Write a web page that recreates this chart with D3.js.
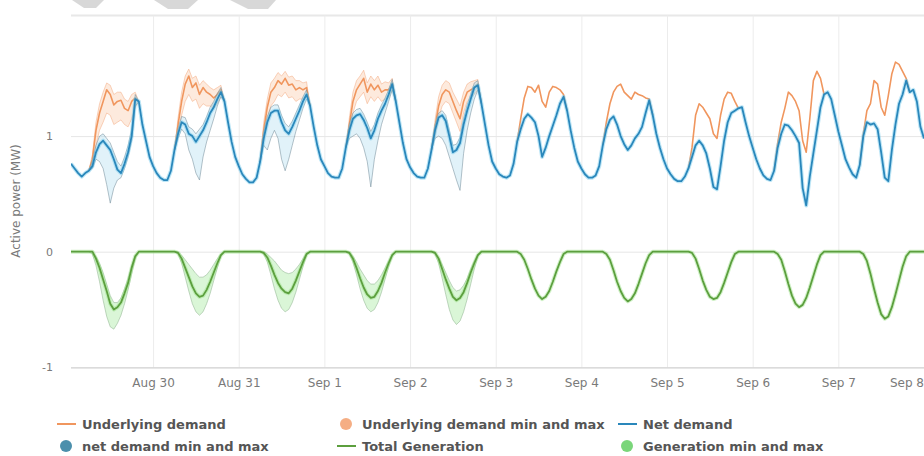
<!DOCTYPE html>
<html>
<head>
<meta charset="utf-8">
<script src="https://cdn.jsdelivr.net/npm/d3@7"></script>
<style>
  html, body { margin: 0; padding: 0; background: #ffffff; }
  svg { display: block; font-family: "DejaVu Sans", Verdana, sans-serif; }
</style>
</head>
<body>
<svg id="chart" width="924" height="456"></svg>
<script>
// ---------------------------------------------------------------
// Data: hourly readings in MW, first reading 29 Aug 01:00 (UTC)
// ---------------------------------------------------------------
const HOUR = 3600e3, DAY = 24 * HOUR;
const firstDay = Date.UTC(2016, 7, 29);          // 29 Aug, 00:00
const seriesStart = firstDay + HOUR;              // first hourly reading
const seriesEnd = Date.UTC(2016, 8, 8);           // 8 Sep, 00:00

// Net demand, one value per hour (29 Aug 01:00 ... 8 Sep 00:00)
const netDemand = [
  0.76,0.72,0.68,0.65,0.68,0.70,0.74,0.86,0.93,0.96,0.92,0.88,0.80,0.71,0.68,0.76,0.86,1.00,1.32,1.30,1.10,0.96,0.82,
  0.74,0.68,0.64,0.62,0.62,0.70,0.88,1.02,1.12,1.10,1.02,1.00,0.95,1.00,1.05,1.12,1.20,1.25,1.32,1.38,1.30,1.12,0.95,0.82,
  0.74,0.67,0.63,0.60,0.60,0.64,0.78,0.98,1.12,1.20,1.22,1.22,1.12,1.05,1.02,1.08,1.15,1.22,1.30,1.36,1.26,1.08,0.92,0.80,
  0.74,0.68,0.65,0.64,0.64,0.72,0.90,1.05,1.15,1.18,1.19,1.14,1.07,0.98,1.05,1.15,1.22,1.28,1.36,1.45,1.30,1.12,0.94,0.80,
  0.73,0.68,0.65,0.64,0.64,0.72,0.88,1.05,1.16,1.18,1.13,1.00,0.86,0.88,0.94,1.10,1.22,1.32,1.42,1.44,1.28,1.10,0.92,0.78,
  0.72,0.67,0.65,0.64,0.66,0.76,0.95,1.06,1.15,1.19,1.16,1.12,1.00,0.82,0.90,1.00,1.09,1.18,1.28,1.34,1.22,1.05,0.90,0.78,
  0.72,0.67,0.64,0.64,0.66,0.74,0.92,1.06,1.14,1.17,1.10,1.00,0.93,0.88,0.92,0.98,1.02,1.08,1.20,1.31,1.18,1.02,0.90,0.80,
  0.72,0.67,0.63,0.61,0.61,0.65,0.72,0.82,0.92,0.96,0.92,0.85,0.72,0.56,0.54,0.74,0.96,1.12,1.20,1.22,1.24,1.25,1.12,1.00,
  0.90,0.80,0.72,0.66,0.63,0.62,0.70,0.90,1.02,1.10,1.09,1.05,1.00,0.94,0.55,0.40,0.65,0.85,1.05,1.25,1.36,1.38,1.32,1.18,
  1.04,0.92,0.80,0.73,0.67,0.64,0.75,1.00,1.12,1.10,1.11,1.06,0.86,0.64,0.61,0.88,1.10,1.28,1.36,1.48,1.38,1.40,1.30,1.08,
  0.98
];

// Daytime values, 06:00 ... 20:00 of each day (29 Aug ... 7 Sep).
// Outside these hours the underlying demand equals the net demand.
const underlyingDemand = [
  [0.70,0.80,1.05,1.20,1.30,1.40,1.36,1.27,1.30,1.31,1.24,1.22,1.30,1.33,1.30],
  [0.88,1.10,1.30,1.45,1.52,1.42,1.46,1.36,1.42,1.38,1.36,1.33,1.36,1.40,1.30],
  [0.78,1.05,1.25,1.38,1.42,1.48,1.45,1.50,1.44,1.45,1.40,1.42,1.40,1.42,1.26],
  [0.90,1.10,1.30,1.40,1.45,1.50,1.38,1.45,1.40,1.44,1.38,1.40,1.40,1.46,1.30],
  [0.88,1.08,1.26,1.36,1.40,1.38,1.30,1.22,1.15,1.30,1.38,1.40,1.42,1.45,1.28],
  [0.95,1.15,1.33,1.43,1.42,1.38,1.44,1.30,1.25,1.38,1.43,1.42,1.40,1.36,1.22],
  [0.92,1.12,1.28,1.38,1.43,1.45,1.38,1.35,1.32,1.38,1.36,1.35,1.33,1.32,1.18],
  [0.72,0.90,1.18,1.28,1.25,1.20,1.15,1.02,0.98,1.18,1.32,1.38,1.37,1.30,1.24],
  [0.70,0.94,1.12,1.24,1.38,1.35,1.30,1.22,0.96,0.86,1.15,1.48,1.56,1.50,1.36],
  [0.75,1.02,1.22,1.28,1.48,1.45,1.25,1.18,1.35,1.54,1.64,1.62,1.56,1.50,1.38]
];

// Underlying demand min / max, 06:00 ... 20:00 (29 Aug ... 2 Sep)
const underlyingMin = [
  [0.70,0.76,0.92,1.05,1.12,1.20,1.18,1.10,1.12,1.14,1.10,1.08,1.15,1.25,1.30],
  [0.88,1.02,1.18,1.30,1.36,1.30,1.32,1.24,1.28,1.26,1.26,1.24,1.28,1.34,1.30],
  [0.78,0.96,1.15,1.26,1.30,1.36,1.34,1.38,1.33,1.34,1.30,1.32,1.32,1.36,1.26],
  [0.90,1.02,1.20,1.30,1.34,1.38,1.28,1.34,1.30,1.34,1.30,1.32,1.33,1.40,1.30],
  [0.88,1.00,1.16,1.26,1.30,1.28,1.20,1.12,1.04,1.20,1.30,1.33,1.36,1.40,1.28]
];
const underlyingMax = [
  [0.70,0.84,1.12,1.28,1.38,1.46,1.44,1.36,1.38,1.38,1.32,1.30,1.36,1.38,1.30],
  [0.88,1.16,1.38,1.52,1.58,1.50,1.52,1.44,1.48,1.45,1.42,1.40,1.42,1.44,1.30],
  [0.78,1.12,1.32,1.46,1.50,1.55,1.52,1.56,1.51,1.52,1.48,1.48,1.46,1.47,1.26],
  [0.90,1.16,1.38,1.48,1.52,1.57,1.46,1.52,1.48,1.52,1.45,1.47,1.46,1.50,1.30],
  [0.88,1.14,1.34,1.44,1.48,1.46,1.38,1.32,1.26,1.38,1.45,1.47,1.48,1.49,1.28]
];

// Net demand min / max, 06:00 ... 20:00 (29 Aug ... 2 Sep)
const netMin = [
  [0.70,0.72,0.80,0.78,0.72,0.58,0.42,0.55,0.62,0.64,0.72,0.82,0.96,1.26,1.30],
  [0.88,0.98,1.06,1.02,0.88,0.80,0.68,0.62,0.82,0.95,1.05,1.15,1.26,1.34,1.30],
  [0.78,0.92,0.88,0.98,1.05,0.98,0.80,0.70,0.80,0.92,1.04,1.14,1.24,1.32,1.26],
  [0.90,0.98,1.00,1.02,0.98,0.90,0.78,0.56,0.80,0.96,1.10,1.20,1.30,1.40,1.30],
  [0.88,0.98,1.00,0.98,0.92,0.82,0.72,0.62,0.53,0.85,1.05,1.20,1.32,1.40,1.28]
];
const netMax = [
  [0.70,0.78,0.92,1.00,1.02,0.98,0.94,0.86,0.78,0.74,0.82,0.92,1.06,1.36,1.30],
  [0.88,1.06,1.17,1.16,1.08,1.06,1.02,1.06,1.10,1.17,1.25,1.30,1.37,1.42,1.30],
  [0.78,1.02,1.17,1.25,1.27,1.27,1.18,1.11,1.08,1.13,1.20,1.27,1.34,1.40,1.26],
  [0.90,1.10,1.20,1.23,1.24,1.19,1.12,1.04,1.10,1.20,1.27,1.33,1.40,1.49,1.30],
  [0.88,1.09,1.20,1.22,1.18,1.05,0.92,0.93,0.99,1.15,1.27,1.36,1.46,1.48,1.28]
];

// Total generation, 06:00 ... 20:00 of each day (zero at night)
const generation = [
  [0,0.00,-0.06,-0.14,-0.24,-0.34,-0.45,-0.50,-0.48,-0.44,-0.36,-0.27,-0.14,-0.04,0],
  [0,-0.01,-0.06,-0.14,-0.22,-0.30,-0.36,-0.39,-0.38,-0.33,-0.26,-0.18,-0.10,-0.03,0],
  [0,-0.01,-0.05,-0.12,-0.20,-0.27,-0.32,-0.35,-0.36,-0.32,-0.25,-0.17,-0.09,-0.02,0],
  [0,-0.01,-0.06,-0.14,-0.23,-0.31,-0.37,-0.40,-0.39,-0.34,-0.27,-0.18,-0.10,-0.03,0],
  [0,-0.01,-0.06,-0.15,-0.24,-0.32,-0.39,-0.42,-0.40,-0.35,-0.27,-0.18,-0.10,-0.03,0],
  [0,-0.02,-0.07,-0.15,-0.24,-0.32,-0.38,-0.41,-0.39,-0.34,-0.26,-0.17,-0.09,-0.02,0],
  [0,-0.02,-0.07,-0.16,-0.26,-0.34,-0.40,-0.43,-0.41,-0.36,-0.28,-0.19,-0.10,-0.03,0],
  [0,-0.01,-0.06,-0.15,-0.25,-0.33,-0.39,-0.41,-0.40,-0.35,-0.27,-0.18,-0.09,-0.02,0],
  [0,-0.02,-0.07,-0.17,-0.28,-0.38,-0.45,-0.48,-0.46,-0.40,-0.31,-0.21,-0.11,-0.03,0],
  [0,-0.02,-0.08,-0.19,-0.32,-0.44,-0.54,-0.58,-0.56,-0.48,-0.37,-0.25,-0.13,-0.04,0]
];

// Generation min / max, 06:00 ... 20:00 (29 Aug ... 2 Sep)
const generationMin = [
  [0,-0.02,-0.12,-0.26,-0.42,-0.56,-0.65,-0.67,-0.62,-0.55,-0.45,-0.33,-0.19,-0.06,0],
  [0,-0.02,-0.10,-0.22,-0.34,-0.45,-0.52,-0.55,-0.52,-0.45,-0.36,-0.25,-0.14,-0.04,0],
  [0,-0.02,-0.09,-0.20,-0.32,-0.42,-0.49,-0.52,-0.50,-0.44,-0.35,-0.24,-0.13,-0.03,0],
  [0,-0.02,-0.09,-0.20,-0.32,-0.42,-0.49,-0.52,-0.50,-0.44,-0.35,-0.24,-0.13,-0.04,0],
  [0,-0.02,-0.10,-0.23,-0.37,-0.50,-0.59,-0.63,-0.60,-0.52,-0.41,-0.28,-0.15,-0.04,0]
];
const generationMax = [
  [0,0,-0.04,-0.10,-0.18,-0.28,-0.38,-0.44,-0.44,-0.40,-0.32,-0.23,-0.12,-0.03,0],
  [0,0,-0.03,-0.07,-0.11,-0.15,-0.19,-0.22,-0.22,-0.20,-0.16,-0.11,-0.06,-0.02,0],
  [0,0,-0.02,-0.05,-0.08,-0.12,-0.16,-0.18,-0.19,-0.18,-0.15,-0.11,-0.06,-0.01,0],
  [0,0,-0.04,-0.09,-0.15,-0.20,-0.25,-0.28,-0.28,-0.25,-0.20,-0.14,-0.08,-0.02,0],
  [0,0,-0.05,-0.11,-0.18,-0.25,-0.31,-0.34,-0.33,-0.29,-0.23,-0.15,-0.08,-0.02,0]
];

const firstDaytimeHour = 6;
const yTicks = [-1, 0, 1];
const yTitle = "Active power (MW)";
const legendItems = [
  { label: "Underlying demand",             symbol: "line",   color: "#f0965e" },
  { label: "Underlying demand min and max", symbol: "circle", color: "#f5ae84" },
  { label: "Net demand",                    symbol: "line",   color: "#2a87bb" },
  { label: "net demand min and max",        symbol: "circle", color: "#4b8fac" },
  { label: "Total Generation",              symbol: "line",   color: "#5c9f3e" },
  { label: "Generation min and max",        symbol: "circle", color: "#7ad67a" }
];

// ---------------------------------------------------------------
// Build point lists
// ---------------------------------------------------------------
const netPoints = netDemand.map((v, i) => ({ t: new Date(seriesStart + i * HOUR), v }));

const genPoints = netDemand.map((_, i) => {
  const absHour = i + 1;                       // hours since 29 Aug 00:00
  const d = Math.floor(absHour / 24), h = absHour % 24;
  const day = generation[d];
  const k = h - firstDaytimeHour;
  const v = (day && k >= 0 && k < day.length) ? day[k] : 0;
  return { t: new Date(seriesStart + i * HOUR), v };
});

const daytime = (d, values) => values.map((v, k) => ({
  t: new Date(firstDay + d * DAY + (firstDaytimeHour + k) * HOUR), v
}));
const daytimeBand = (d, lo, hi) => lo.map((l, k) => ({
  t: new Date(firstDay + d * DAY + (firstDaytimeHour + k) * HOUR), lo: l, hi: hi[k]
}));

const undSegments = underlyingDemand.map((vals, d) => daytime(d, vals));
const undBands = underlyingMin.map((lo, d) => daytimeBand(d, lo, underlyingMax[d]));
const netBands = netMin.map((lo, d) => daytimeBand(d, lo, netMax[d]));
const genBands = generationMin.map((lo, d) => daytimeBand(d, lo, generationMax[d]));

// ---------------------------------------------------------------
// Scales & layout
// ---------------------------------------------------------------
const svg = d3.select("#chart");
const plot = { left: 71, right: 924, top: 15.5, bottom: 367.3 };

const x = d3.scaleUtc()
  .domain([new Date(seriesStart), new Date(seriesEnd)])
  .range([plot.left, plot.right]);
const y = d3.scaleLinear()
  .domain([-1, 2])
  .range([plot.bottom, 20.5]);

// decorative header stripes at the very top of the panel
const stripes = [
  [[72, 0], [104, 0], [96, 8], [84, 8]],
  [[154, 0], [198, 0], [188, 9], [168, 9]],
  [[230, 0], [276, 0], [268, 9], [248, 9]]
];
svg.append("g").selectAll("path").data(stripes).join("path")
  .attr("d", p => "M" + p.join("L") + "Z")
  .attr("fill", "#d8d8d8");

// top border of the plotting panel
svg.append("line")
  .attr("x1", plot.left).attr("x2", plot.right)
  .attr("y1", plot.top).attr("y2", plot.top)
  .attr("stroke", "#e8e8e8").attr("stroke-width", 2);

// vertical day grid + x labels
const xAxis = d3.axisBottom(x)
  .ticks(d3.utcDay.every(1))
  .tickFormat(d3.utcFormat("%b %-d"))
  .tickSize(-(plot.bottom - plot.top))
  .tickPadding(11);
const gx = svg.append("g")
  .attr("transform", `translate(0,${plot.bottom})`)
  .call(xAxis);
gx.select(".domain").remove();
gx.selectAll(".tick line").attr("stroke", "#ececec").attr("stroke-width", 1);
gx.selectAll(".tick text")
  .attr("fill", "#7a7a7a").attr("font-size", 12)
  .attr("font-family", "DejaVu Sans, sans-serif");
// keep the last label inside the panel
gx.selectAll(".tick text").each(function () {
  const node = this, bb = node.getBBox();
  const tr = node.parentNode.getAttribute("transform");
  const tx = +tr.match(/translate\(([-\d.]+)/)[1];
  if (tx + bb.width / 2 > plot.right - 1) {
    d3.select(node).attr("text-anchor", "end").attr("x", plot.right - tx);
  }
});

// horizontal grid + y labels (plain hyphen for negatives)
const yAxis = d3.axisLeft(y)
  .tickValues(yTicks)
  .tickFormat(d => String(d))
  .tickSize(-(plot.right - plot.left))
  .tickPadding(18);
const gy = svg.append("g")
  .attr("transform", `translate(${plot.left},0)`)
  .call(yAxis);
gy.select(".domain").remove();
gy.selectAll(".tick line")
  .attr("stroke", d => d === -1 ? "#cfcfcf" : "#e6e6e6")
  .attr("stroke-width", d => d === -1 ? 1.2 : 1);
gy.selectAll(".tick text")
  .attr("fill", "#7a7a7a").attr("font-size", 11)
  .attr("font-family", "DejaVu Sans, sans-serif");

svg.append("text")
  .attr("transform", `translate(20,201) rotate(-90)`)
  .attr("text-anchor", "middle")
  .attr("fill", "#7a7a7a").attr("font-size", 12)
  .text(yTitle);

// ---------------------------------------------------------------
// Series
// ---------------------------------------------------------------
svg.append("clipPath").attr("id", "plotClip")
  .append("rect")
  .attr("x", plot.left).attr("y", plot.top)
  .attr("width", plot.right - plot.left).attr("height", plot.bottom - plot.top);
const g = svg.append("g").attr("clip-path", "url(#plotClip)");

const line = d3.line().x(d => x(d.t)).y(d => y(d.v));
const area = d3.area().x(d => x(d.t)).y0(d => y(d.lo)).y1(d => y(d.hi));
const loLine = d3.line().x(d => x(d.t)).y(d => y(d.lo));
const hiLine = d3.line().x(d => x(d.t)).y(d => y(d.hi));

function drawBand(bands, fill, edge) {
  const bg = g.append("g");
  bg.selectAll("path.fill").data(bands).join("path").attr("class", "fill")
    .attr("d", area).attr("fill", fill).attr("stroke", "none");
  bg.selectAll("path.lo").data(bands).join("path").attr("class", "lo")
    .attr("d", loLine).attr("fill", "none").attr("stroke", edge).attr("stroke-width", 0.9);
  bg.selectAll("path.hi").data(bands).join("path").attr("class", "hi")
    .attr("d", hiLine).attr("fill", "none").attr("stroke", edge).attr("stroke-width", 0.9);
}

// underlying demand band + line
drawBand(undBands, "rgba(247,172,122,0.26)", "rgba(242,160,112,0.5)");
g.append("g").selectAll("path").data(undSegments).join("path")
  .attr("d", line).attr("fill", "none")
  .attr("stroke", "#f0965e").attr("stroke-width", 1.6)
  .attr("stroke-linejoin", "round");

// net demand band + line
drawBand(netBands, "rgba(140,205,232,0.26)", "rgba(105,130,145,0.55)");
g.append("path").datum(netPoints)
  .attr("d", line).attr("fill", "none")
  .attr("stroke", "rgba(110,200,235,0.45)").attr("stroke-width", 4)
  .attr("stroke-linejoin", "round");
g.append("path").datum(netPoints)
  .attr("d", line).attr("fill", "none")
  .attr("stroke", "#2a87bb").attr("stroke-width", 1.8)
  .attr("stroke-linejoin", "round");

// generation band + line
drawBand(genBands, "rgba(150,228,140,0.35)", "rgba(150,185,150,0.65)");
g.append("path").datum(genPoints)
  .attr("d", line).attr("fill", "none")
  .attr("stroke", "rgba(150,225,130,0.45)").attr("stroke-width", 4)
  .attr("stroke-linejoin", "round");
g.append("path").datum(genPoints)
  .attr("d", line).attr("fill", "none")
  .attr("stroke", "#5c9f3e").attr("stroke-width", 1.8)
  .attr("stroke-linejoin", "round");

// ---------------------------------------------------------------
// Legend (3 columns, 2 rows)
// ---------------------------------------------------------------
const colX = [82, 362, 643];
const rowY = [424, 446];
const lg = svg.append("g");
legendItems.forEach((item, i) => {
  const cx = colX[i % 3], cy = rowY[Math.floor(i / 3)];
  const it = lg.append("g");
  if (item.symbol === "line") {
    it.append("line")
      .attr("x1", cx - 25).attr("x2", cx - 6)
      .attr("y1", cy).attr("y2", cy)
      .attr("stroke", item.color).attr("stroke-width", 2);
  } else {
    it.append("circle")
      .attr("cx", cx - 16).attr("cy", cy).attr("r", 6)
      .attr("fill", item.color);
  }
  it.append("text")
    .attr("x", cx).attr("y", cy + 4.5)
    .attr("font-size", 13).attr("font-weight", "bold")
    .attr("fill", "#555")
    .text(item.label);
});
</script>
</body>
</html>
